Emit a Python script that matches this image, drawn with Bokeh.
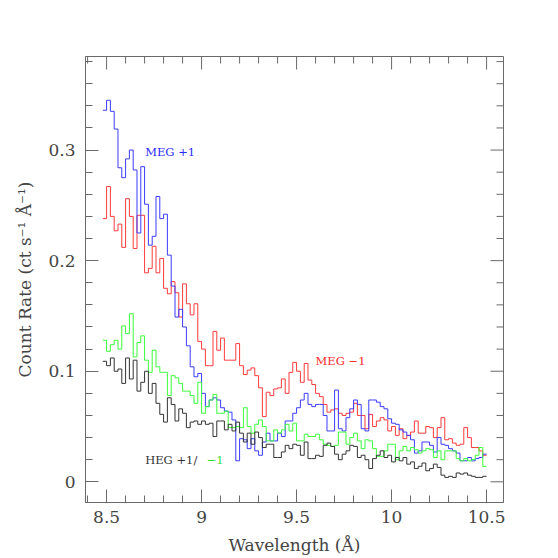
import numpy as np
from bokeh.plotting import figure
from bokeh.models import Range1d, FixedTicker
from bokeh.core.properties import value
from bokeh.embed import file_html
from bokeh.resources import INLINE

# ---------------- data ----------------
bin_start = 8.48   # Angstrom, left edge of first bin
bin_width = 0.02   # Angstrom

meg_plus1 = [
    0.336, 0.345, 0.335, 0.319, 0.284, 0.275, 0.292, 0.300, 0.282, 0.225,
    0.285, 0.251, 0.214, 0.222, 0.258, 0.238, 0.242, 0.205, 0.177, 0.149,
    0.156, 0.140, 0.123, 0.104, 0.095, 0.098, 0.080, 0.068, 0.074, 0.076,
    0.074, 0.067, 0.064, 0.063, 0.056, 0.019, 0.039, 0.038, 0.030, 0.039,
    0.028, 0.024, 0.036, 0.044, 0.037, 0.037, 0.044, 0.041, 0.055, 0.055,
    0.062, 0.067, 0.074, 0.080, 0.070, 0.068, 0.070, 0.070, 0.060, 0.046,
    0.046, 0.083, 0.048, 0.046, 0.058, 0.066, 0.074, 0.070, 0.048, 0.046,
    0.074, 0.074, 0.072, 0.068, 0.066, 0.057, 0.053, 0.052, 0.047, 0.045,
    0.042, 0.038, 0.026, 0.028, 0.036, 0.036, 0.033, 0.027, 0.040, 0.034,
    0.033, 0.030, 0.028, 0.026, 0.019, 0.019, 0.022, 0.019, 0.021, 0.022,
    0.025]

meg_minus1 = [
    0.238, 0.267, 0.240, 0.227, 0.233, 0.212, 0.256, 0.240, 0.211, 0.241,
    0.241, 0.189, 0.193, 0.213, 0.189, 0.202, 0.175, 0.170, 0.181, 0.171,
    0.149, 0.179, 0.161, 0.151, 0.161, 0.127, 0.120, 0.105, 0.105, 0.136,
    0.119, 0.130, 0.110, 0.110, 0.110, 0.125, 0.105, 0.097, 0.101, 0.103,
    0.096, 0.085, 0.059, 0.081, 0.078, 0.084, 0.085, 0.093, 0.080, 0.099,
    0.108, 0.100, 0.090, 0.107, 0.092, 0.088, 0.080, 0.077, 0.070, 0.063,
    0.065, 0.066, 0.062, 0.060, 0.062, 0.063, 0.071, 0.060, 0.060, 0.048,
    0.061, 0.050, 0.055, 0.058, 0.056, 0.046, 0.050, 0.042, 0.048, 0.039,
    0.042, 0.045, 0.055, 0.044, 0.044, 0.050, 0.049, 0.040, 0.049, 0.058,
    0.038, 0.039, 0.035, 0.033, 0.034, 0.049, 0.040, 0.031, 0.031, 0.028,
    0.024]

heg_minus1 = [
    0.128, 0.118, 0.124, 0.128, 0.120, 0.141, 0.134, 0.152, 0.113, 0.126,
    0.132, 0.110, 0.099, 0.119, 0.104, 0.099, 0.099, 0.078, 0.096, 0.094,
    0.089, 0.082, 0.082, 0.078, 0.071, 0.090, 0.062, 0.068, 0.074, 0.079,
    0.062, 0.062, 0.064, 0.049, 0.049, 0.050, 0.049, 0.067, 0.050, 0.044,
    0.052, 0.056, 0.050, 0.037, 0.037, 0.047, 0.044, 0.047, 0.052, 0.046,
    0.053, 0.037, 0.037, 0.043, 0.041, 0.041, 0.043, 0.038, 0.034, 0.033,
    0.032, 0.033, 0.045, 0.045, 0.034, 0.040, 0.044, 0.037, 0.030, 0.038,
    0.037, 0.030, 0.023, 0.023, 0.028, 0.034, 0.034, 0.020, 0.028, 0.032,
    0.028, 0.031, 0.029, 0.026, 0.028, 0.030, 0.029, 0.022, 0.028, 0.020,
    0.028, 0.028, 0.028, 0.021, 0.019, 0.021, 0.019, 0.020, 0.024, 0.031,
    0.014]

heg_plus1 = [
    0.109, 0.105, 0.112, 0.100, 0.102, 0.089, 0.112, 0.093, 0.110, 0.082,
    0.090, 0.100, 0.080, 0.089, 0.071, 0.061, 0.054, 0.076, 0.070, 0.055,
    0.066, 0.062, 0.049, 0.054, 0.055, 0.052, 0.055, 0.052, 0.053, 0.041,
    0.055, 0.055, 0.047, 0.052, 0.046, 0.054, 0.044, 0.036, 0.044, 0.034,
    0.045, 0.040, 0.031, 0.034, 0.034, 0.022, 0.022, 0.027, 0.033, 0.030,
    0.034, 0.033, 0.024, 0.036, 0.021, 0.021, 0.024, 0.023, 0.033, 0.035,
    0.032, 0.025, 0.020, 0.025, 0.028, 0.033, 0.032, 0.022, 0.024, 0.020,
    0.012, 0.021, 0.024, 0.028, 0.022, 0.024, 0.018, 0.022, 0.019, 0.022,
    0.016, 0.018, 0.012, 0.014, 0.017, 0.010, 0.012, 0.016, 0.013, 0.006,
    0.004, 0.005, 0.004, 0.008, 0.007, 0.008, 0.006, 0.005, 0.004, 0.004,
    0.005]

x_ticks = [8.5, 9.0, 9.5, 10.0, 10.5]
x_tick_labels = ["8.5", "9", "9.5", "10", "10.5"]
y_ticks = [0.0, 0.1, 0.2, 0.3]
y_tick_labels = ["0", "0.1", "0.2", "0.3"]

# ---------------- styling ----------------
FONT = "DejaVu Serif"
AX_COL = "#6a6a6a"
TXT_COL = "#444444"
X0, X1 = 8.389, 10.589
Y0, Y1 = -0.0187, 0.3846

n = len(meg_plus1)
edges = bin_start + bin_width * np.arange(n + 1)


def stepped(v):
    return list(v) + [v[-1]]


p = figure(width=558, height=558, output_backend="svg", toolbar_location=None,
           x_range=Range1d(X0, X1), y_range=Range1d(Y0, Y1),
           min_border_left=85, min_border_right=55, min_border_top=56,
           min_border_bottom=56)
p.xgrid.visible = False
p.ygrid.visible = False
p.outline_line_color = AX_COL
p.background_fill_color = "white"
p.border_fill_color = "white"

x_minor = list(np.round(np.arange(8.4, 10.55, 0.1), 2))
y_minor = list(np.round(np.arange(0.0, 0.385, 0.02), 2))


def style_axis(ax, ticks, minor, labels):
    ax.ticker = FixedTicker(ticks=ticks, minor_ticks=minor)
    ax.axis_line_color = AX_COL
    ax.major_tick_line_color = AX_COL
    ax.minor_tick_line_color = AX_COL
    ax.major_tick_in = 13
    ax.major_tick_out = 0
    ax.minor_tick_in = 7
    ax.minor_tick_out = 0
    ax.major_label_overrides = dict(zip(ticks, labels))
    ax.major_label_text_font = FONT
    ax.major_label_text_font_size = "17px"
    ax.major_label_text_color = TXT_COL
    ax.axis_label_text_font = FONT
    ax.axis_label_text_font_size = "17px"
    ax.axis_label_text_font_style = "normal"
    ax.axis_label_text_color = TXT_COL


xa = p.xaxis[0]
style_axis(xa, x_ticks, x_minor, x_tick_labels)
xa.major_label_standoff = 8
xa.axis_label = "Wavelength (Å)"
xa.axis_label_standoff = 9

ya = p.yaxis[0]
style_axis(ya, y_ticks, y_minor, y_tick_labels)
ya.major_label_standoff = 10
ya.major_label_orientation = "horizontal"
ya.axis_label = "Count Rate (ct s⁻¹ Å⁻¹)"
ya.axis_label_standoff = 10

# mirrored inward ticks on the top and right edges (clipped to the frame)
xmaj = [t for t in x_ticks]
xmin = [t for t in x_minor if t not in x_ticks]
ymaj = [t for t in y_ticks]
ymin = [t for t in y_minor if t not in y_ticks]
p.scatter(x=xmaj, y=[Y1] * len(xmaj), marker="dash", size=26, angle=np.pi / 2,
          line_color=AX_COL, line_width=1)
p.scatter(x=xmin, y=[Y1] * len(xmin), marker="dash", size=14, angle=np.pi / 2,
          line_color=AX_COL, line_width=1)
p.scatter(x=[X1] * len(ymaj), y=ymaj, marker="dash", size=26,
          line_color=AX_COL, line_width=1)
p.scatter(x=[X1] * len(ymin), y=ymin, marker="dash", size=14,
          line_color=AX_COL, line_width=1)

# ---------------- spectra ----------------
series = [
    (meg_minus1, "#ff3b3b"),
    (meg_plus1, "#3b3bff"),
    (heg_minus1, "#3bff3b"),
    (heg_plus1, "#333333"),
]
for vals, col in series:
    p.step(x=list(edges), y=stepped(vals), mode="after",
           line_color=col, line_width=1)

# ---------------- labels ----------------
lab_font = value(FONT)
p.text(x=[8.703], y=[0.2986], text=["MEG +1"], text_font=lab_font,
       text_font_size="11.5px", text_color="#2a2aff",
       text_baseline="alphabetic", text_align="left")
p.text(x=[9.600], y=[0.1096], text=["MEG −1"], text_font=lab_font,
       text_font_size="11.5px", text_color="#ff2a2a",
       text_baseline="alphabetic", text_align="left")
p.text(x=[8.703], y=[0.0199], text=["HEG  +1/"], text_font=lab_font,
       text_font_size="11.5px", text_color="#333333",
       text_baseline="alphabetic", text_align="left")
p.text(x=[9.027], y=[0.0199], text=["−1"], text_font=lab_font,
       text_font_size="11.5px", text_color="#2ee02e",
       text_baseline="alphabetic", text_align="left")

open("out.html", "w").write(file_html(p, INLINE))
